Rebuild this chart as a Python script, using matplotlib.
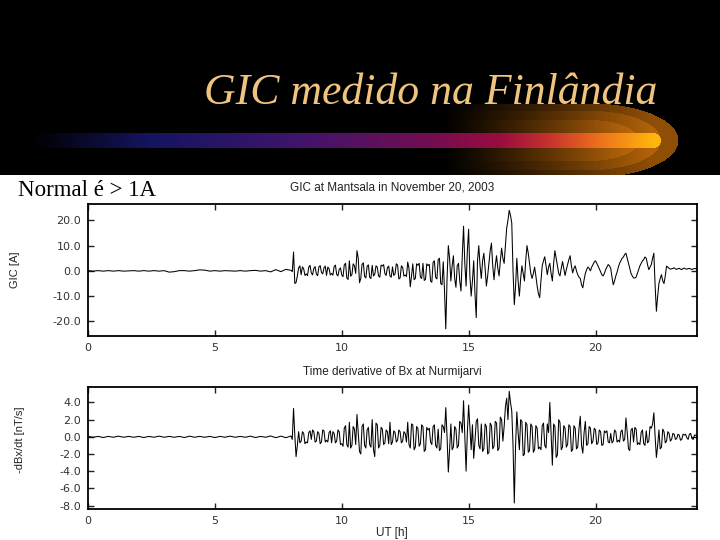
import numpy as np
import matplotlib
matplotlib.use("Agg")
import matplotlib.pyplot as plt

# time axes (hours UT)
t_quiet = np.arange(0, 8, 0.2)
t_active = np.arange(8, 24.001, 0.1)
t_mid = np.arange(8.05, 24, 0.1)

# GIC at Mantsala [A]
gic_quiet = [0.1, -0.1, 0.1, -0.1, 0.1, -0.1, 0.1, -0.1, 0.0, 0.1,
             -0.1, 0.1, -0.1, 0.1, -0.1, 0.1, -0.5, -0.3, 0.1, 0.1,
             -0.1, 0.1, 0.4, 0.3, -0.1, 0.1, -0.1, 0.1, 0.0, -0.1,
             0.1, -0.1, 0.1, 0.2, -0.1, 0.1, -0.4, 0.5, -0.3, 0.6]
gic_active = [0.2, 7.5, -4.6, 1.2, -1.5, 0.8, -1.2, 1.5, -0.8, 1.0,
              -1.3, 1.6, -0.6, 1.2, -1.8, 0.9, -1.0, 1.7, -1.4, 0.6,
              -1.6, 2.4, -2.8, 4.0, -1.5, 2.0, 8.0, -4.7, 2.6, -2.2,
              1.8, -2.6, 2.2, -1.4, 1.5, -2.5, 1.9, -1.1, 1.3, -2.0,
              1.6, -1.2, 2.3, -2.8, 1.4, -1.6, 3.5, -6.3, 2.8, -3.0,
              2.2, -2.5, 3.0, -3.4, 2.1, -4.0, 3.4, -2.6, 4.5, -5.0,
              3.6, -23.0, 10.0, -4.0, 6.0, -6.5, 3.0, -8.0, 17.7, -6.0,
              16.5, -10.0, 4.0, -18.5, 10.0, -3.0, 7.0, -6.0, 3.0, 11.0,
              -3.5, 6.0, -2.0, 9.0, 3.0, 17.0, 24.0, 19.0, -13.4, 5.0,
              -10.0, 2.0, -4.0, 10.0, 3.0, -3.0, 1.5, -6.0, -10.6, 2.0,
              5.6, -1.5, 3.0, -4.0, 8.0, 2.0, -2.0, 3.7, -1.8, 2.5,
              6.0, -0.8, 2.0, -1.5, -3.0, -6.7, -1.0, 1.5, 0.0, 2.5,
              4.0, 2.0, -0.5, -2.0, 0.5, 2.5, 1.0, -5.5, -2.0, 1.5,
              4.0, 5.5, 7.0, 3.0, -1.0, -2.8, -2.5, 0.5, 3.0, 4.5,
              5.0, 0.5, 2.5, 7.0, -16.0, -5.0, -1.5, -5.0, 1.9, 1.0,
              0.8, 1.2, 0.6, 1.0, 0.5, 1.1, 0.7, 1.0, 0.6, 0.9, 0.8]
gic_mid = [-0.3, -5.0, -2.0, 2.0, 1.6, -1.8, -1.9, 2.2, -1.6, 1.7,
           -1.9, 2.1, -1.2, 1.9, 1.5, -1.6, -1.7, 2.3, -2.0, 1.2,
           -2.3, 3.0, -3.4, -2.1, 2.8, -1.0, 5.0, -3.0, 3.2, -2.8,
           2.4, -3.0, -2.0, 2.0, -2.0, 2.3, 2.5, -1.8, 1.9, -2.5,
           -1.8, 2.8, -3.2, 2.0, -2.1, -2.2, 1.0, -2.0, -3.5, 2.8,
           3.0, -3.0, -3.8, 2.8, 2.6, -4.5, 4.0, -3.2, 5.0, -5.5,
           -8.0, -3.0, 5.0, 2.0, -3.0, 2.0, -4.0, 6.0, 3.0, 8.0,
           -2.0, -4.0, -9.0, 4.0, 2.0, 4.0, 1.0, -2.0, 8.0, 2.0,
           2.0, 1.0, 4.0, 5.0, 10.0, 20.0, 22.0, 0.0, -6.0, -4.0,
           -3.0, -1.0, 4.0, 7.0, -1.0, -1.0, -2.0, -9.0, -4.0, 4.0,
           2.0, 1.5, -1.0, 3.0, 5.0, -1.0, 1.0, 1.0, 0.5, 4.5,
           2.0, 1.0, 0.0, -2.5, -5.5, -3.5, 0.5, 1.0, 1.5, 3.5,
           3.0, 0.8, -1.5, -1.0, 1.5, 2.0, -2.5, -4.0, -0.5, 3.0,
           5.0, 6.5, 5.0, 1.0, -2.0, -2.8, -1.0, 2.0, 4.0, 5.5,
           2.5, 1.5, 5.0, -6.0, -10.0, -3.0, -4.0, -2.0, 1.5, 0.7,
           1.0, 0.8, 0.9, 0.7, 0.9, 0.8, 0.9, 0.7, 0.8, 0.9]

# -dBx/dt at Nurmijarvi [nT/s]
dbdt_quiet = [0.05, -0.05, 0.05, -0.08, 0.05, -0.05, 0.08, -0.05, 0.05, -0.05,
              0.05, -0.08, 0.05, -0.05, 0.08, -0.05, 0.05, -0.05, 0.05, -0.08,
              0.08, -0.05, 0.05, -0.05, 0.05, -0.08, 0.05, -0.05, 0.08, -0.05,
              0.05, -0.05, 0.08, -0.08, 0.05, -0.05, 0.1, -0.1, 0.08, -0.1]
dbdt_active = [0.1, 3.3, -2.3, 0.6, -0.5, 0.4, -0.6, 0.5, -0.3, 0.6,
               -0.5, 0.4, -0.6, 0.7, -0.4, 0.5, -0.7, 0.4, -0.5, 0.6,
               -0.8, 1.0, -0.9, 1.7, -1.0, 0.9, 2.6, -1.7, 1.2, -1.0,
               0.8, -0.9, 2.0, -2.3, 1.4, -1.0, 0.9, -0.7, 0.6, 1.7,
               -0.6, 0.5, -0.4, 0.6, -0.5, 0.4, 1.7, -1.3, 1.4, -1.2,
               1.0, -0.8, 1.2, -1.5, 0.8, -0.6, 1.2, -1.0, 0.9, -1.4,
               1.2, 3.4, -4.1, 1.5, -1.2, 0.9, -1.0, 1.6, 4.2, -4.0,
               3.7, -1.5, -2.5, 1.8, -1.0, 1.5, -1.4, 1.2, -1.8, 1.3,
               -1.1, 1.6, -1.3, 2.0, 1.2, 4.5, 5.3, 3.0, -7.7, 2.9,
               -1.5, 1.8, -2.0, 1.4, -1.6, 1.2, -1.5, 1.0, -1.2, 1.3,
               -1.0, 1.5, 4.0, -3.3, 1.2, -2.1, 1.7, -1.2, 1.0, -0.9,
               1.2, -1.5, 1.0, -1.2, 2.4, -1.9, 1.8, -0.8, 1.0, -0.5,
               0.8, -0.7, 0.6, -0.9, 0.5, -0.6, 0.4, -0.5, 0.6, -0.4,
               0.6, -0.5, 2.2, -1.4, 0.8, -0.6, 0.9, -0.7, 0.5, -0.8,
               0.7, -0.5, 1.0, 2.8, -2.4, 0.8, -1.2, 0.6, -0.5, 0.4,
               -0.3, 0.3, -0.2, 0.2, -0.3, 0.2, -0.1, 0.3, -0.2, 0.2, 0.0]
dbdt_mid = [-0.3, 0.2, -1.0, -0.7, 0.6, -0.8, -0.7, 0.7, 0.8, -0.6,
            0.6, -0.8, 0.8, -0.6, -0.6, 0.7, 0.6, -0.7, 0.8, -0.9,
            -1.1, 1.3, -1.2, -1.3, 1.2, -0.9, 0.5, -2.0, 1.5, -1.3,
            1.1, -1.2, -1.5, 1.6, -1.3, 1.1, -0.9, 0.8, -0.8, -0.9,
            0.7, -0.6, 0.8, -0.7, 0.6, -0.6, -0.9, 1.5, -1.5, 1.2,
            -1.1, 1.4, -1.7, 1.1, 1.0, -0.9, 1.4, -1.3, -1.6, 1.4,
            0.5, 0.0, -1.5, -1.5, 1.2, -1.3, 1.8, 0.5, 0.0, 0.5,
            1.0, 1.4, -0.5, 2.1, -1.4, -1.7, 1.5, -2.0, 1.6, -1.4,
            1.8, -1.6, 2.3, -0.5, 3.5, 2.0, 4.0, -1.0, -1.0, 0.5,
            2.0, -2.2, 1.7, -1.8, 1.5, -1.8, 1.3, -1.4, -1.5, 1.6,
            -1.3, 0.5, 0.5, 1.5, -2.4, 2.0, -1.5, 1.3, -1.2, 1.4,
            -1.7, 1.3, -1.4, 1.0, -1.0, 0.5, -1.0, 1.2, -0.8, 1.0,
            -0.9, 0.8, -1.0, 0.7, 0.7, -0.7, -0.7, 0.8, -0.6, -0.6,
            0.8, -0.3, 0.5, -1.6, 1.0, 1.1, -0.9, -0.9, 0.8, -1.0,
            -0.7, 1.2, 1.5, 0.0, -1.0, -1.4, 0.9, -0.7, 0.6, -0.5,
            0.4, -0.3, 0.3, -0.4, 0.3, 0.3, -0.3, 0.4, -0.3, 0.2]

x_ticks = [0, 5, 10, 15, 20]
gic_ticks = [-20, -10, 0, 10, 20]
dbdt_ticks = [-8, -6, -4, -2, 0, 2, 4]

t = np.concatenate([t_quiet, t_active, t_mid])
order = np.argsort(t, kind="stable")
t = t[order]
gic = np.concatenate([gic_quiet, gic_active, gic_mid])[order]
dbdt = np.concatenate([dbdt_quiet, dbdt_active, dbdt_mid])[order]

fig = plt.figure(figsize=(7.2, 5.4), dpi=100)
fig.patch.set_facecolor("white")

# ---- slide header: black band, gradient bar, orange glow ----
H, W = 175, 720
yy, xx = np.mgrid[0:H, 0:W].astype(float)
img = np.zeros((H, W, 3))

dist = np.where(xx <= 590, np.abs(yy - 140) / 37,
                np.sqrt(((xx - 590) / 88) ** 2 + ((yy - 140) / 37) ** 2))
level = np.where(dist < 0.55, 1.0, np.where(dist < 0.8, 0.85,
                 np.where(dist < 1.0, 0.68, 0.0)))
ramp = np.clip((xx - 440) / 210, 0, 1) ** 1.2
glow = level * ramp
img[..., 0] = 0.82 * glow
img[..., 1] = 0.45 * glow
img[..., 2] = 0.04 * glow

stops_x = [30, 150, 300, 430, 500, 550, 600, 655]
stops_c = [(0.0, 0.0, 0.0), (0.08, 0.08, 0.38), (0.25, 0.08, 0.42),
           (0.45, 0.05, 0.32), (0.6, 0.05, 0.25), (0.78, 0.2, 0.18),
           (0.93, 0.45, 0.1), (1.0, 0.72, 0.05)]
bar = (yy >= 133) & (yy <= 147) & (xx >= 30) & (xx <= 653)
cap = (xx - 653) ** 2 + (yy - 140) ** 2 <= 7.3 ** 2
bar = bar | cap
for k in range(3):
    col = np.interp(np.clip(xx, 30, 655), stops_x, [c[k] for c in stops_c])
    img[..., k] = np.where(bar, col, img[..., k])
img = np.clip(img, 0, 1)

hdr = fig.add_axes([0, 1 - H / 540, 1, H / 540])
hdr.imshow(img, aspect="auto", interpolation="bilinear")
hdr.axis("off")

fig.text(431 / 720, 1 - 93 / 540, "GIC medido na Finlândia",
         ha="center", va="center", fontsize=31.5, style="italic",
         family="Liberation Serif", color="#F0C47E")
fig.text(18 / 720, 1 - 190 / 540, "Normal é > 1A", ha="left", va="center",
         fontsize=16.5, family="Liberation Serif", color="black")


def style_axis(ax, ylim, yticks):
    ax.set_xlim(0, 24)
    ax.set_ylim(*ylim)
    ax.set_xticks(x_ticks)
    ax.set_yticks(yticks)
    ax.set_yticklabels(["%.1f" % v for v in yticks])
    ax.tick_params(direction="in", length=4, width=1, top=True, right=True,
                   labelsize=8, colors="#222222", labelcolor="#333333", pad=5)
    for s in ax.spines.values():
        s.set_linewidth(1.3)


ax1 = fig.add_axes([88 / 720, 1 - 336 / 540, 609 / 720, 132 / 540])
ax1.plot(t, gic, color="black", lw=0.75)
style_axis(ax1, (-25.8, 26.5), gic_ticks)

ax2 = fig.add_axes([88 / 720, 1 - 509 / 540, 609 / 720, 122 / 540])
ax2.plot(t, dbdt, color="black", lw=0.75)
style_axis(ax2, (-8.4, 5.8), dbdt_ticks)

fig.text(392 / 720, 1 - 188 / 540, "GIC at Mantsala in November 20, 2003",
         ha="center", va="center", fontsize=8.5, family="Liberation Sans",
         color="#222222")
fig.text(392 / 720, 1 - 372 / 540, "Time derivative of Bx at Nurmijarvi",
         ha="center", va="center", fontsize=8.5, family="Liberation Sans",
         color="#222222")
fig.text(392 / 720, 1 - 533 / 540, "UT [h]", ha="center", va="center",
         fontsize=8.5, family="Liberation Sans", color="#222222")
fig.text(15 / 720, 1 - 270 / 540, "GIC [A]", rotation=90, ha="center",
         va="center", fontsize=8, family="Liberation Sans", color="#222222")
fig.text(20 / 720, 1 - 440 / 540, "-dBx/dt [nT/s]", rotation=90, ha="center",
         va="center", fontsize=8, family="Liberation Sans", color="#222222")

fig.savefig("out.png", dpi=100)
